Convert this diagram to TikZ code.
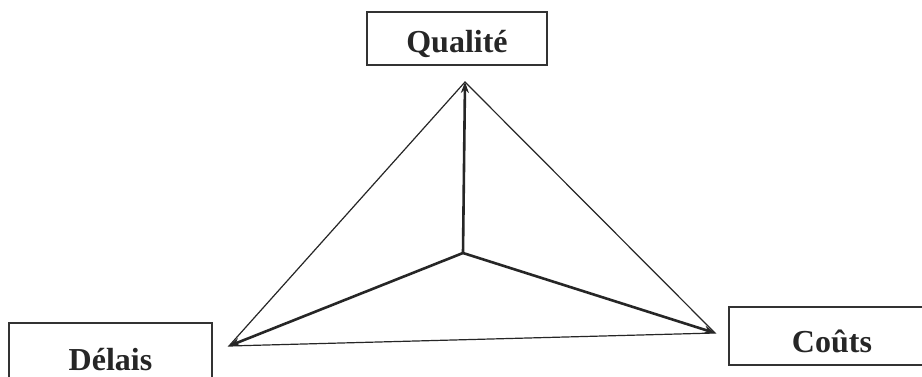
\documentclass[tikz,border=0pt]{standalone}
\usepackage{fontspec}
\setmainfont{Liberation Serif}
\usetikzlibrary{arrows.meta}
\newcommand{\lowertext}[1]{\raisebox{-5pt}[\height][\depth]{#1}}
\begin{document}
\begin{tikzpicture}[x=1pt,y=-1pt,
  labelbox/.style={draw=black!80, line width=1.8pt, inner sep=0pt,
    font=\fontsize{32}{38}\selectfont\bfseries, text=black!85},
  thinedge/.style={line width=1.2pt, black!85},
  thickedge/.style={line width=2.6pt, black!85, -{Stealth[length=11pt,width=8pt]}}]
\clip (0,0) rectangle (922,377);
\fill[white] (0,0) rectangle (922,377);
\node[labelbox, minimum width=180pt, minimum height=53pt] (q) at (457,38.5) {\lowertext{Qualité}};
\node[labelbox, minimum width=203pt, minimum height=74pt] (d) at (110.5,360) {Délais};
\node[labelbox, minimum width=206pt, minimum height=58pt] (c) at (832,336) {\lowertext{Coûts}};
\coordinate (top) at (465,82);
\coordinate (left) at (229,346);
\coordinate (right) at (715,333);
\coordinate (mid) at (463,253);
\draw[thinedge] (top) -- (left) -- (right) -- cycle;
\draw[thickedge] (mid) -- (top);
\draw[thickedge] (mid) -- (left);
\draw[thickedge] (mid) -- (right);
\end{tikzpicture}
\end{document}
